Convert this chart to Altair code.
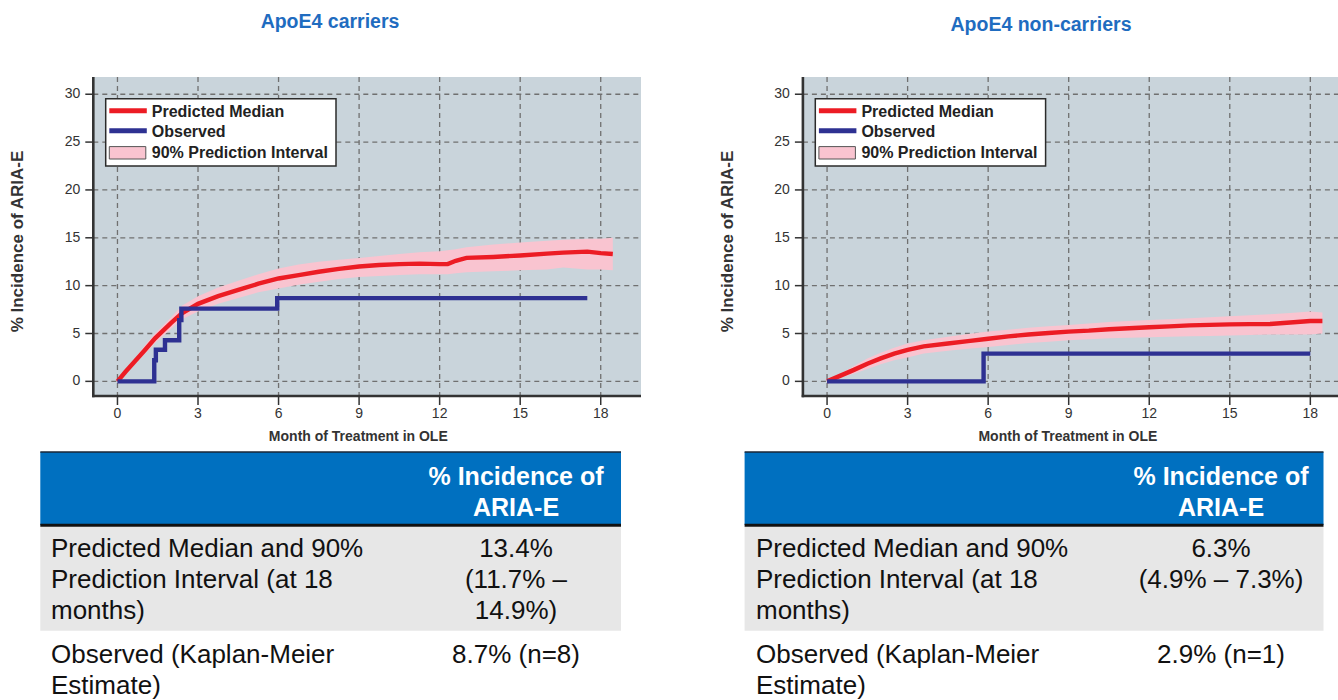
import altair as alt
import pandas as pd

# ---------------- data ----------------
x_ticks = [0, 3, 6, 9, 12, 15, 18]
y_ticks = [0, 5, 10, 15, 20, 25, 30]

# ApoE4 carriers: simulated median and 90% prediction interval
months_L = [0, 0.3, 0.65, 1.0, 1.4, 2.0, 2.4, 3.0, 3.75, 4.5, 5.25, 6.0, 6.75, 7.5, 8.25,
            9.0, 9.75, 10.5, 11.25, 12.0, 12.3, 12.6, 13.0, 14.0, 15.0, 16.0, 16.6, 17.5, 18.0, 18.45]
median_L = [0, 1.0, 2.1, 3.2, 4.5, 6.1, 7.1, 8.1, 8.9, 9.55, 10.2, 10.75, 11.1, 11.45, 11.75,
            12.0, 12.15, 12.25, 12.3, 12.25, 12.25, 12.6, 12.9, 13.0, 13.15, 13.35, 13.45, 13.55, 13.4, 13.3]
lo_L = [0, 0.8, 1.8, 2.8, 4.0, 5.5, 6.5, 7.3, 8.1, 8.7, 9.3, 9.7, 10.1, 10.4, 10.7,
        10.9, 11.0, 11.1, 11.2, 11.2, 11.2, 11.3, 11.4, 11.5, 11.6, 11.7, 11.9, 11.7, 11.7, 11.6]
hi_L = [0, 1.2, 2.4, 3.7, 5.0, 6.7, 7.9, 8.9, 9.8, 10.5, 11.2, 11.8, 12.2, 12.5, 12.7,
        12.9, 13.1, 13.3, 13.5, 13.6, 13.7, 13.8, 14.0, 14.3, 14.5, 14.7, 14.8, 14.9, 14.9, 15.0]
# ApoE4 carriers: observed Kaplan-Meier estimate (step function)
obs_m_L = [0, 1.37, 1.43, 1.77, 2.3, 2.38, 5.95, 17.5]
obs_v_L = [0, 2.2, 3.3, 4.3, 6.4, 7.6, 8.7, 8.7]

# ApoE4 non-carriers
months_R = [0, 0.5, 1.0, 1.5, 2.0, 2.5, 3.0, 3.6, 4.5, 5.25, 6.0, 6.75, 7.5, 8.25, 9.0,
            9.75, 10.5, 11.25, 12.0, 12.75, 13.5, 14.25, 15.0, 15.75, 16.5, 17.25, 18.0, 18.45]
median_R = [0, 0.6, 1.2, 1.85, 2.4, 2.9, 3.3, 3.65, 3.95, 4.2, 4.45, 4.7, 4.9, 5.05, 5.2,
            5.3, 5.45, 5.55, 5.65, 5.75, 5.85, 5.9, 5.95, 5.98, 6.0, 6.15, 6.3, 6.3]
lo_R = [0, 0.4, 0.8, 1.3, 1.8, 2.2, 2.5, 2.9, 3.2, 3.4, 3.6, 3.8, 4.0, 4.15, 4.3,
        4.4, 4.5, 4.55, 4.6, 4.65, 4.7, 4.75, 4.8, 4.85, 4.9, 4.9, 4.9, 5.0]
hi_R = [0, 0.8, 1.6, 2.4, 3.0, 3.5, 3.95, 4.3, 4.65, 4.95, 5.2, 5.4, 5.6, 5.75, 5.9,
        6.05, 6.2, 6.3, 6.4, 6.5, 6.6, 6.7, 6.8, 6.9, 7.0, 7.15, 7.3, 7.2]
obs_m_R = [0, 5.83, 18.0]
obs_v_R = [0, 2.9, 2.9]

titles = ["ApoE4 carriers", "ApoE4 non-carriers"]
legend_labels = ["Predicted Median", "Observed", "90% Prediction Interval"]
header_lines = ["% Incidence of", "ARIA-E"]
row1_label = ["Predicted Median and 90%", "Prediction Interval (at 18", "months)"]
row2_label = ["Observed (Kaplan-Meier", "Estimate)"]
row1_values_L = ["13.4%", "(11.7% \u2013", "14.9%)"]
row2_values_L = ["8.7% (n=8)"]
row1_values_R = ["6.3%", "(4.9% \u2013 7.3%)"]
row2_values_R = ["2.9% (n=1)"]

# ---------------- style ----------------
FONT = "Liberation Sans"
BG = "#c9d4db"
GRID = "#707070"
RED = "#ec1c24"
BLUE = "#2e3192"
PINK = "#f9c4d0"
AXIS = "#333333"
TITLE_BLUE = "#1f6cc0"
HEADER_BLUE = "#0070c0"
ROW_GRAY = "#e7e7e7"

X_DOMAIN = [-0.9, 19.5]
Y_DOMAIN = [-1.53, 31.8]
PLOT_TOP, PLOT_BOTTOM = 77.0, 396.0
ONE = pd.DataFrame({"k": [0]})


def text(x, y, s, size, color="#000000", weight="normal", align="left", angle=0):
    kw = dict(text=s, fontSize=size, fontWeight=weight, color=color, align=align,
              baseline="middle", font=FONT)
    if angle:
        kw["angle"] = angle
    return alt.Chart(ONE).mark_text(**kw).encode(x=alt.value(x), y=alt.value(y))


def rect(x, y, x2, y2, fill, **kw):
    return alt.Chart(ONE).mark_rect(color=fill, **kw).encode(
        x=alt.value(x), x2=alt.value(x2), y=alt.value(y), y2=alt.value(y2))


def rule(x, y, x2, y2, color, width, **kw):
    return alt.Chart(ONE).mark_rule(color=color, strokeWidth=width, **kw).encode(
        x=alt.value(x), x2=alt.value(x2), y=alt.value(y), y2=alt.value(y2))


def panel(x0, x1, months, median, lo, hi, obs_m, obs_v, title, title_x, title_y):
    xs = alt.Scale(domain=X_DOMAIN, range=[x0, x1], nice=False, zero=False)
    ys = alt.Scale(domain=Y_DOMAIN, range=[PLOT_BOTTOM, PLOT_TOP], nice=False, zero=False)
    X = lambda f: alt.X(f, scale=xs, axis=None)
    Y = lambda f: alt.Y(f, scale=ys, axis=None)

    frame = pd.DataFrame({"x0": [X_DOMAIN[0]], "x1": [X_DOMAIN[1]],
                          "y0": [Y_DOMAIN[0]], "y1": [Y_DOMAIN[1]]})
    xt = pd.DataFrame({"m": x_ticks, "lab": [str(v) for v in x_ticks]})
    yt = pd.DataFrame({"v": y_ticks, "lab": [str(v) for v in y_ticks]})
    pred = pd.DataFrame({"m": months, "med": median, "lo": lo, "hi": hi})
    obs = pd.DataFrame({"m": obs_m, "v": obs_v})

    layers = [
        alt.Chart(frame).mark_rect(color=BG).encode(
            x=X("x0:Q"), x2="x1:Q", y=Y("y0:Q"), y2="y1:Q"),
        alt.Chart(xt).mark_rule(color=GRID, strokeWidth=1.3, strokeDash=[5, 4]).encode(
            x=X("m:Q"), y=alt.value(PLOT_TOP), y2=alt.value(PLOT_BOTTOM)),
        alt.Chart(yt).mark_rule(color=GRID, strokeWidth=1.3, strokeDash=[5, 4]).encode(
            y=Y("v:Q"), x=alt.value(x0), x2=alt.value(x1)),
        alt.Chart(pred).mark_area(color=PINK, opacity=1).encode(
            x=X("m:Q"), y=Y("lo:Q"), y2="hi:Q"),
        alt.Chart(pred).mark_line(color=RED, strokeWidth=4.4).encode(
            x=X("m:Q"), y=Y("med:Q")),
        alt.Chart(obs).mark_line(color=BLUE, strokeWidth=4.4, interpolate="step-after").encode(
            x=X("m:Q"), y=Y("v:Q")),
        # axis lines
        rule(x0, PLOT_TOP, x0, PLOT_BOTTOM + 1.2, AXIS, 2.6),
        rule(x0 - 1.2, PLOT_BOTTOM, x1, PLOT_BOTTOM, AXIS, 2.6),
        # tick marks
        alt.Chart(yt).mark_rule(color=AXIS, strokeWidth=1.5).encode(
            y=Y("v:Q"), x=alt.value(x0 - 8), x2=alt.value(x0)),
        alt.Chart(xt).mark_rule(color=AXIS, strokeWidth=1.5).encode(
            x=X("m:Q"), y=alt.value(PLOT_BOTTOM), y2=alt.value(PLOT_BOTTOM + 9)),
        # tick labels
        alt.Chart(yt).mark_text(font=FONT, fontSize=14, color=AXIS, align="right",
                                baseline="middle").encode(
            y=Y("v:Q"), x=alt.value(x0 - 13), text="lab:N"),
        alt.Chart(xt).mark_text(font=FONT, fontSize=14, color=AXIS, align="center",
                                baseline="middle").encode(
            x=X("m:Q"), y=alt.value(414), text="lab:N"),
        # axis titles
        text(x0 + 265, 437, "Month of Treatment in OLE", 14, AXIS, "bold", "center"),
        text(x0 - 75, 241.5, "% Incidence of ARIA-E", 17, AXIS, "bold", "center", angle=270),
        # panel title
        text(title_x, title_y, title, 19.5, TITLE_BLUE, "bold", "center"),
        # legend
        rect(x0 + 12.4, 98.7, x0 + 242.7, 166, "#ffffff", stroke="#2b2b2b", strokeWidth=1.5),
        rule(x0 + 16, 110.8, x0 + 53.5, 110.8, RED, 5),
        rule(x0 + 16, 130.8, x0 + 53.5, 130.8, BLUE, 5),
        rect(x0 + 16, 146.6, x0 + 52.5, 159, PINK, stroke="#555555", strokeWidth=1),
        text(x0 + 58.5, 112, legend_labels[0], 16, "#222222", "bold"),
        text(x0 + 58.5, 132, legend_labels[1], 16, "#222222", "bold"),
        text(x0 + 58.5, 152.8, legend_labels[2], 16, "#222222", "bold"),
    ]
    return layers


def table(tx0, tx1, label_x, value_x, r1_values, r2_values):
    layers = [
        rect(tx0, 452, tx1, 525, HEADER_BLUE),
        rule(tx0, 452, tx1, 452, "#1a2636", 1.6),
        rect(tx0, 526.5, tx1, 630.7, ROW_GRAY),
        rule(tx0, 525.2, tx1, 525.2, "#111111", 3),
        text(value_x, 477, header_lines[0], 25, "#ffffff", "bold", "center"),
        text(value_x, 507.5, header_lines[1], 25, "#ffffff", "bold", "center"),
    ]
    body_y1 = [548.5, 579.5, 610.5]
    body_y2 = [655, 686]
    for s, y in zip(row1_label, body_y1):
        layers.append(text(label_x, y, s, 26, "#111111"))
    for s, y in zip(r1_values, body_y1):
        layers.append(text(value_x, y, s, 26, "#111111", align="center"))
    for s, y in zip(row2_label, body_y2):
        layers.append(text(label_x, y, s, 26, "#111111"))
    for s, y in zip(r2_values, body_y2):
        layers.append(text(value_x, y, s, 26, "#111111", align="center"))
    return layers


layers = []
layers += panel(93.3, 641.0, months_L, median_L, lo_L, hi_L, obs_m_L, obs_v_L,
                titles[0], 330, 22)
layers += panel(802.9, 1350.6, months_R, median_R, lo_R, hi_R, obs_m_R, obs_v_R,
                titles[1], 1041, 25)
layers += table(40.3, 621.0, 51, 516, row1_values_L, row2_values_L)
layers += table(744.6, 1323.5, 756, 1221, row1_values_R, row2_values_R)

chart = (
    alt.layer(*layers)
    .resolve_scale(x="independent", y="independent")
    .properties(width=1338, height=700, padding=0, background="white",
                autosize=alt.AutoSizeParams(type="none"))
    .configure_view(strokeWidth=0)
)

chart.save("out.html", embed_options={"renderer": "svg", "actions": False})
